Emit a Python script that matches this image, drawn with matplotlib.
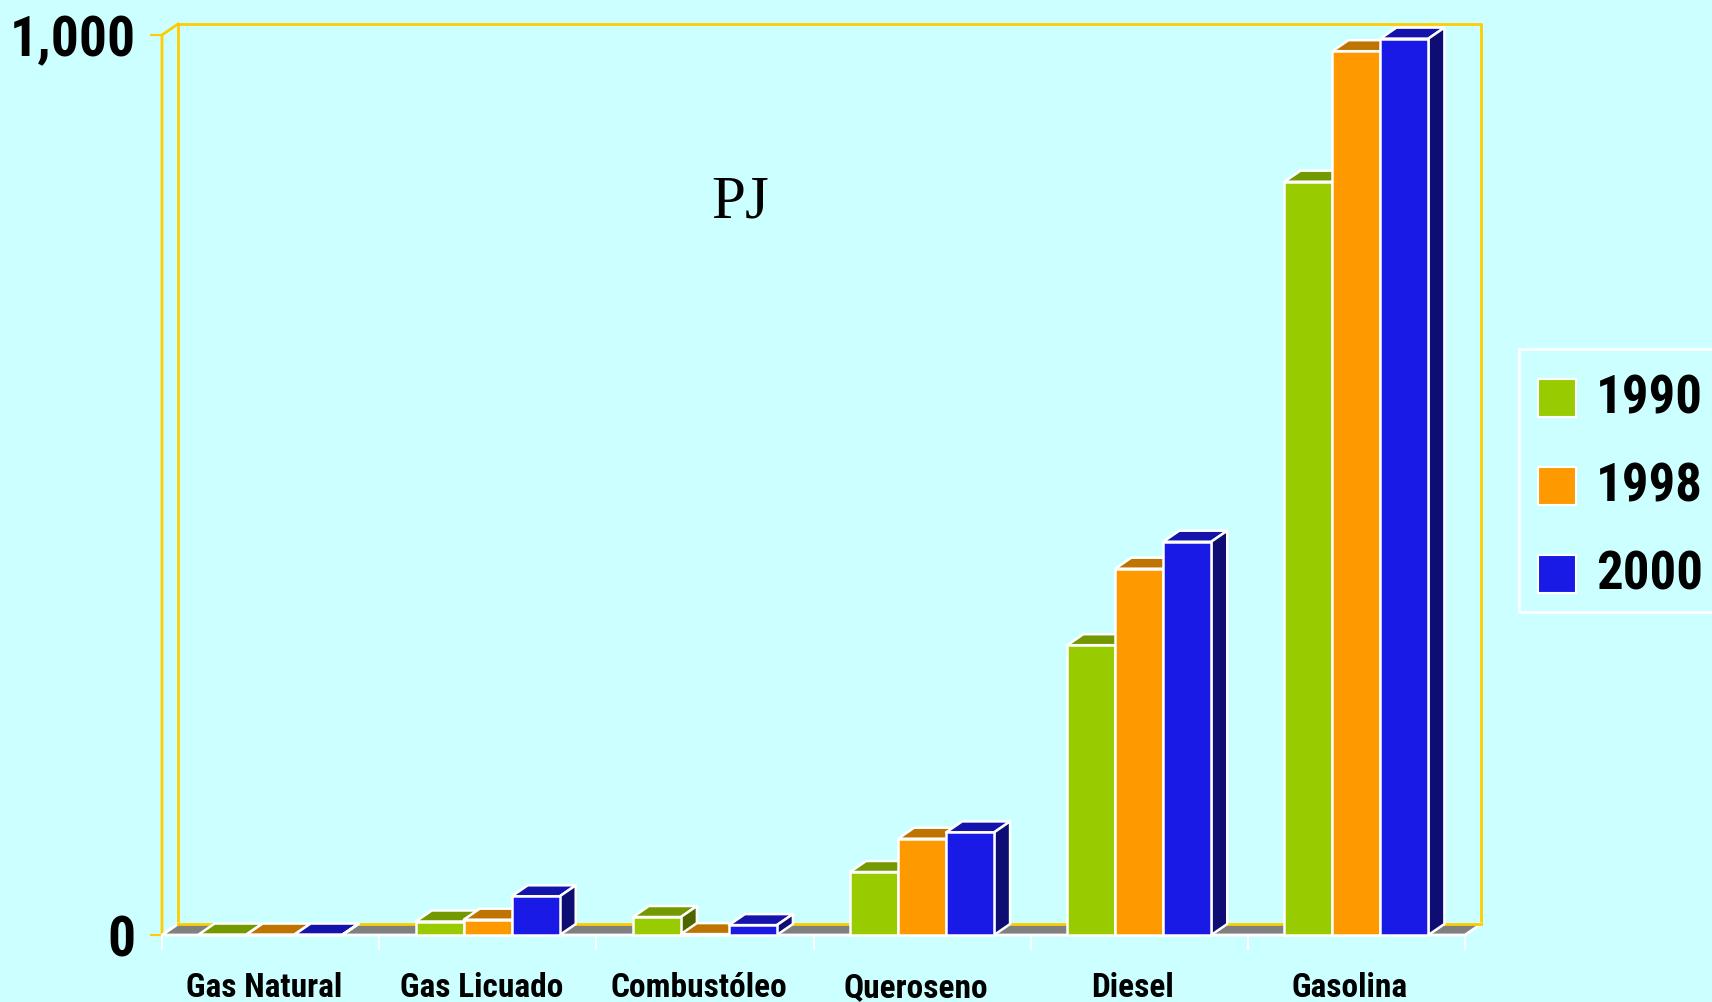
import matplotlib
matplotlib.use("Agg")
import matplotlib.pyplot as plt
from matplotlib.patches import Polygon, Rectangle
from matplotlib.lines import Line2D

categories = ['Gas Natural', 'Gas Licuado', 'Combustóleo', 'Queroseno', 'Diesel', 'Gasolina']
years = ['1990', '1998', '2000']
v1990 = [0.5, 15, 20, 70, 322, 837]
v1998 = [0.5, 17, 1, 107, 407, 982]
v2000 = [0.5, 43, 11, 114, 437, 996]
series = [v1990, v1998, v2000]

# front, top, side shades
colors = [('#99CC00', '#739900', '#4D6600'),
          ('#FF9900', '#BF7300', '#804D00'),
          ('#1A1AE6', '#1414AD', '#0D0D73')]

BG = '#CCFFFF'
YEL = '#FFCC00'
W, H = 1712, 1003
NARROW = ['Roboto Condensed', 'DejaVu Sans']

fig = plt.figure(figsize=(W / 100, H / 100), dpi=100, facecolor=BG)
# plot box in pixels: x 162..1465, y 36..936 (from top)
ax = fig.add_axes([162 / W, 67 / H, 1303 / W, 900 / H])
ax.set_facecolor('none')
ax.set_xlim(0, 6)
ax.set_ylim(0, 1000)
for s in ax.spines.values():
    s.set_visible(False)

# depth offset in data units
dx = 16 / (1303 / 6)
dy = 11 / 0.9
bw = 0.221
n = len(categories)

# back wall + left wall (yellow outline)
ax.add_line(Line2D([dx, dx, n + dx, n + dx], [dy, 1000 + dy, 1000 + dy, dy],
                   color=YEL, lw=2, clip_on=False, zorder=1))
ax.add_line(Line2D([0, 0, dx], [0, 1000, 1000 + dy], color=YEL, lw=2, clip_on=False, zorder=1))

# floor
ax.add_patch(Polygon([(0, 0), (n, 0), (n + dx, dy), (dx, dy)], closed=True,
                     facecolor='#808080', edgecolor='none', clip_on=False, zorder=2))
ax.add_line(Line2D([dx, 0, n, n + dx], [dy, 0, 0, dy], color='white', lw=2,
                   clip_on=False, zorder=3))
ax.add_line(Line2D([dx, n + dx], [dy, dy], color=YEL, lw=2, clip_on=False, zorder=3))

z = 4
for i in range(n):
    for j, vals in enumerate(series):
        v = vals[i]
        x0 = i + 0.5 + (j - 1.5) * bw
        x1 = x0 + bw
        front, top, side = colors[j]
        kw = dict(closed=True, edgecolor='white', lw=1.8, joinstyle='round', clip_on=False)
        ax.add_patch(Polygon([(x0, v), (x1, v), (x1 + dx, v + dy), (x0 + dx, v + dy)],
                             facecolor=top, zorder=z, **kw))
        ax.add_patch(Polygon([(x1, 0), (x1 + dx, dy), (x1 + dx, v + dy), (x1, v)],
                             facecolor=side, zorder=z, **kw))
        ax.add_patch(Rectangle((x0, 0), bw, v, facecolor=front, zorder=z + 1,
                               edgecolor='white', lw=1.8, clip_on=False))
        z += 2

# ticks
ax.set_yticks([0, 1000])
ax.set_yticklabels(['0', '1,000'], fontsize=40, fontweight='bold', family=NARROW)
ax.tick_params(axis='y', colors=YEL, length=9, width=1.5, pad=10, labelcolor='black')
ax.set_xticks(range(n + 1))
ax.set_xticklabels([''] * (n + 1))
ax.tick_params(axis='x', which='major', colors='white', length=11, width=1.5)
# labels sit a little left of the category centres
ax.set_xticks([i + 0.47 for i in range(n)], minor=True)
ax.set_xticklabels(categories, minor=True, fontsize=24, fontweight='bold', family=NARROW)
ax.tick_params(axis='x', which='minor', length=0, pad=26, labelcolor='black')

ax.text(740 / W, 1 - 203 / H, 'PJ', transform=fig.transFigure, ha='center', va='center',
        fontsize=44, family='Liberation Serif')

# legend box (drawn by hand, runs off the right edge)
fig.add_artist(Rectangle((1519 / W, 1 - 613 / H), 220 / W, 263 / H, transform=fig.transFigure,
                         facecolor='none', edgecolor='white', lw=2))
for j, yr in enumerate(years):
    yc = 399 + j * 88
    fig.add_artist(Rectangle((1538 / W, 1 - (yc + 19) / H), 38 / W, 38 / H,
                             transform=fig.transFigure, facecolor=colors[j][0],
                             edgecolor='white', lw=1.5))
    fig.text(1596 / W, 1 - yc / H, yr, ha='left', va='center', fontsize=38,
             fontweight='bold', family=NARROW)

fig.savefig('out.png', dpi=100, facecolor=BG)
